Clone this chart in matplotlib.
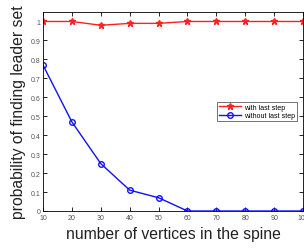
import matplotlib
matplotlib.use('Agg')
import matplotlib.pyplot as plt

plt.rcParams['font.family'] = ['Liberation Sans', 'DejaVu Sans']

vertices = [10, 20, 30, 40, 50, 60, 70, 80, 90, 100]
with_last = [1.0, 1.0, 0.98, 0.99, 0.99, 1.0, 1.0, 1.0, 1.0, 1.0]
without_last = [0.77, 0.47, 0.25, 0.11, 0.07, 0.0, 0.0, 0.0, 0.0, 0.0]
yticks = [0, 0.1, 0.2, 0.3, 0.4, 0.5, 0.6, 0.7, 0.8, 0.9, 1]
ytick_labels = ['0', '0.1', '0.2', '0.3', '0.4', '0.5', '0.6', '0.7', '0.8', '0.9', '1']

fig = plt.figure(figsize=(3.04, 2.51), dpi=100)
ax = fig.add_axes([43 / 304, 1 - 212 / 251, 260 / 304, 199 / 251])

ax.plot(vertices, with_last, color='#ff2020', marker='*', markersize=4.5,
        linewidth=1, label='with last step')
ax.plot(vertices, without_last, color='#1010ff', marker='o', markersize=4,
        markerfacecolor='none', markeredgewidth=1, linewidth=1,
        label='without last step')

ax.set_xlim(10, 100)
ax.set_ylim(0, 1.05)
ax.set_xticks(vertices)
ax.set_yticks(yticks)
ax.set_yticklabels(ytick_labels)
ax.tick_params(direction='in', length=3, width=0.6, labelsize=5,
               labelcolor='#555555', top=True, right=True, pad=2)
for s in ax.spines.values():
    s.set_linewidth(0.6)

ax.set_xlabel('number of vertices in the spine', fontsize=11.3,
              color='#222222', labelpad=4)
ax.set_ylabel('probability of finding leader set', fontsize=11.3,
              color='#222222', labelpad=3)

leg = ax.legend(loc='center right', bbox_to_anchor=(0.99, 0.5), fontsize=5,
                frameon=True, fancybox=False, edgecolor='#333333',
                borderpad=0.3, labelspacing=0.2, handlelength=3.2,
                handletextpad=0.4)
leg.get_frame().set_linewidth(0.6)

fig.savefig('out.png', dpi=100)
